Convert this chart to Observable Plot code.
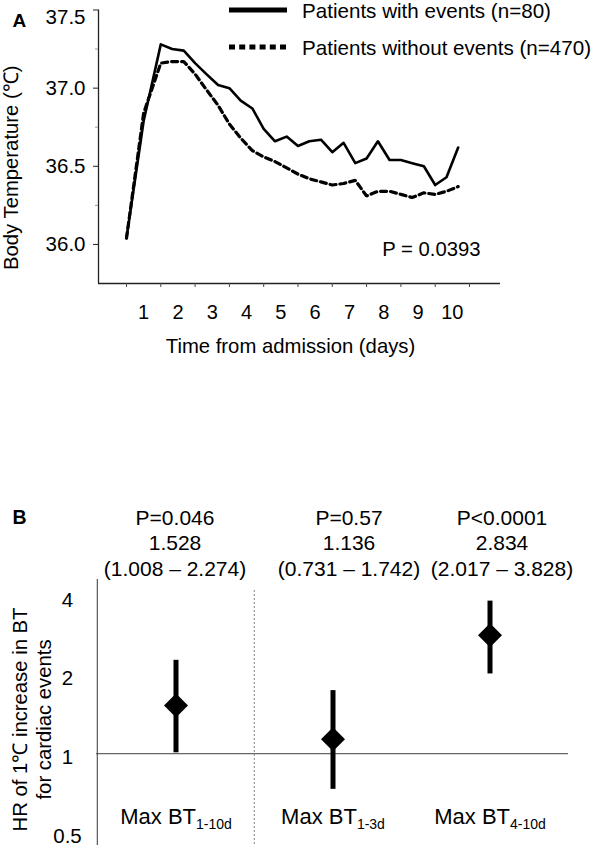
<!DOCTYPE html>
<html><head><meta charset="utf-8">
<script src="https://cdn.jsdelivr.net/npm/d3@7"></script>
<script src="https://cdn.jsdelivr.net/npm/@observablehq/plot@0.6"></script>
<style>
html,body{margin:0;padding:0;background:#fff;}
#root{position:relative;width:592px;height:847px;font-family:Arial,"Liberation Sans",sans-serif;color:#000;overflow:hidden;background:#fff;}
#panelA{position:absolute;left:0;top:0;}
#panelB{position:absolute;left:0;top:490px;}
#legend{position:absolute;left:0;top:0;}
</style></head><body>
<div id="root"><div id="panelA"></div><div id="panelB"></div><svg id="legend" width="592" height="70"></svg></div>
<script>
// ---------- Panel A data ----------
const days = [0, 0.5, 1, 1.33, 1.67, 2, 2.33, 2.67, 3, 3.33, 3.67, 4, 4.33, 4.67, 5, 5.33, 5.67, 6, 6.33, 6.67, 7, 7.33, 7.67, 8, 8.33, 8.67, 9, 9.33, 9.67];
const withEvents = [36.04, 36.79, 37.28, 37.25, 37.24, 37.16, 37.09, 37.02, 37.00, 36.92, 36.87, 36.74, 36.66, 36.69, 36.63, 36.66, 36.67, 36.59, 36.65, 36.52, 36.55, 36.66, 36.54, 36.54, 36.52, 36.50, 36.38, 36.43, 36.62];
const withoutEvents = [36.04, 36.84, 37.16, 37.17, 37.17, 37.09, 36.99, 36.89, 36.77, 36.68, 36.60, 36.56, 36.53, 36.49, 36.45, 36.42, 36.40, 36.38, 36.39, 36.41, 36.31, 36.34, 36.34, 36.32, 36.30, 36.33, 36.32, 36.34, 36.37];
const seriesNames = ["Patients with events (n=80)", "Patients without events (n=470)"];
const dayTicks = [0, 1, 2, 3, 4, 5, 6, 7, 8, 9, 10];
const dayLabelPos = [0.5, 1.5, 2.5, 3.5, 4.5, 5.5, 6.5, 7.5, 8.5, 9.5];
const dayLabels = ["1", "2", "3", "4", "5", "6", "7", "8", "9", "10"];
const tempTicks = [36.0, 36.5, 37.0, 37.5];
const tempMinorTicks = [36.25, 36.75, 37.25];
const xTitleA = "Time from admission (days)";
const yTitleA = "Body Temperature (\u2103)";
const pValueA = "P = 0.0393";

// ---------- Panel B data ----------
const categories = ["Max BT|1-10d", "Max BT|1-3d", "Max BT|4-10d"];
const hrValues = [1.528, 1.136, 2.834];
const ciLower = [1.008, 0.731, 2.017];
const ciUpper = [2.274, 1.742, 3.828];
const pLabels = ["P=0.046", "P=0.57", "P<0.0001"];
const hrTicks = [0.5, 1, 2, 4];
const yTitleB = "HR of 1\u2103 increase in BT\nfor cardiac events";

const FONT = 'Arial, "Liberation Sans", sans-serif';

// ---------- Panel A ----------
const xDomA = [-0.816, 10.904];
const yDomA = [35.75, 37.5];
const rowsA = days.flatMap((d, i) => [
  {day: d, temp: withEvents[i], group: seriesNames[0]},
  {day: d, temp: withoutEvents[i], group: seriesNames[1]}
]);
const fmtT = d3.format(".1f");
const innerTicks = tempTicks.filter(t => t < yDomA[1]);
const topTicks = tempTicks.filter(t => t >= yDomA[1]);

const plotA = Plot.plot({
  width: 592, height: 370,
  marginTop: 9.5, marginLeft: 98, marginRight: 92, marginBottom: 87,
  style: {fontFamily: FONT, fontSize: "20px", background: "white", color: "#000", overflow: "visible"},
  x: {domain: xDomA, label: null},
  y: {domain: yDomA, label: null},
  marks: [
    Plot.ruleX([xDomA[0]], {stroke: "#222", strokeWidth: 1.3}),
    Plot.ruleY([yDomA[0]], {stroke: "#222", strokeWidth: 1.3}),
    Plot.axisY(tempMinorTicks, {tickSize: 3, tickFormat: () => "", label: null, stroke: "#999"}),
    Plot.axisY(tempTicks, {tickSize: 5, tickFormat: () => "", label: null, stroke: "#222"}),
    Plot.axisY(innerTicks, {tickSize: 0, tickPadding: 13, tickFormat: fmtT, label: null, fontSize: 20.5}),
    Plot.axisY(topTicks, {tickSize: 0, tickPadding: 13, tickFormat: fmtT, label: null, fontSize: 20.5, dy: 7.5}),
    Plot.axisX(dayTicks, {tickSize: 4, tickFormat: () => "", label: null, stroke: "#444"}),
    Plot.axisX(dayLabelPos, {tickSize: 0, tickPadding: 21, tickFormat: d => dayLabels[dayLabelPos.indexOf(d)], label: null, fontSize: 20}),
    Plot.line(rowsA.filter(r => r.group === seriesNames[1]), {x: "day", y: "temp", stroke: "#000", strokeWidth: 3.2, strokeDasharray: "6,4", strokeLinejoin: "miter"}),
    Plot.line(rowsA.filter(r => r.group === seriesNames[0]), {x: "day", y: "temp", stroke: "#000", strokeWidth: 2.6}),
    Plot.text([xTitleA], {frameAnchor: "bottom", lineAnchor: "bottom", dx: -9, dy: 69, fontSize: 20.3}),
    Plot.text([yTitleA], {frameAnchor: "left", rotate: -90, textAnchor: "middle", lineAnchor: "bottom", dx: -80.5, dy: 21, fontSize: 20.3}),
    Plot.text([pValueA], {frameAnchor: "bottom-right", textAnchor: "end", lineAnchor: "bottom", dx: -20, dy: -28, fontSize: 20.3}),
    Plot.text(["A"], {frameAnchor: "top-left", textAnchor: "start", lineAnchor: "top", dx: -86, dy: 3, fontWeight: "bold", fontSize: 19})
  ]
});
document.getElementById("panelA").appendChild(plotA);

// legend (overlay built from the series names)
const leg = d3.select("#legend");
const legendRows = [
  {name: seriesNames[0], dash: null, y: 10},
  {name: seriesNames[1], dash: "6,4.2", y: 47}
];
legendRows.forEach(r => {
  leg.append("line").attr("x1", 229).attr("x2", 287).attr("y1", r.y).attr("y2", r.y)
    .attr("stroke", "#000").attr("stroke-width", 5).attr("stroke-dasharray", r.dash);
  leg.append("text").attr("x", 302).attr("y", r.y + 7.5).attr("font-family", FONT)
    .attr("font-size", 20.6).attr("fill", "#000").text(r.name);
});

// ---------- Panel B ----------
const yDomB = [0.446, 4.63];
const mlB = 96, mrB = 24, wB = 592;
const bw = (wB - mlB - mrB) / categories.length;
const tableB = categories.map((c, i) => ({
  cat: c, hr: hrValues[i], lo: ciLower[i], hi: ciUpper[i],
  note: `${pLabels[i]}\n${hrValues[i].toFixed(3)}\n(${ciLower[i].toFixed(3)} \u2013 ${ciUpper[i].toFixed(3)})`
}));
const noteDx = [-1, 16, 12];

const plotB = Plot.plot({
  width: wB, height: 357,
  marginTop: 89, marginBottom: 2, marginLeft: mlB, marginRight: mrB,
  style: {fontFamily: FONT, fontSize: "20px", background: "white", color: "#000", overflow: "visible"},
  x: {type: "band", domain: categories, padding: 0, axis: null},
  y: {type: "log", domain: yDomB, axis: null},
  marks: [
    Plot.ruleY([1], {stroke: "#666", strokeWidth: 1.2}),
    Plot.ruleX([categories[1]], {dx: -bw / 2, stroke: "#9a9a9a", strokeWidth: 1.2, strokeDasharray: "2,2", insetTop: 11}),
    Plot.ruleX([categories[0]], {dx: -bw / 2, stroke: "#555", strokeWidth: 1.2}),
    Plot.ruleX(tableB, {x: "cat", y1: "lo", y2: "hi", stroke: "#000", strokeWidth: 5}),
    Plot.dot(tableB, {x: "cat", y: "hr", symbol: "diamond2", r: 10.8, fill: "#000", stroke: null}),
    Plot.axisY(hrTicks, {tickSize: 0, tickPadding: 29, textAnchor: "middle", dy: 4, tickFormat: d => String(d), label: null, fontSize: 20.5}),
    Plot.text(tableB, {x: "cat", text: "cat", frameAnchor: "bottom", lineAnchor: "bottom", dy: -22, fontSize: 22}),
    ...tableB.map((row, i) => Plot.text([row], {x: "cat", text: "note", frameAnchor: "top", lineAnchor: "bottom", lineHeight: 1.2, dx: noteDx[i], dy: -4, fontSize: 21})),
    Plot.text([yTitleB], {frameAnchor: "left", rotate: -90, textAnchor: "middle", lineAnchor: "bottom", lineHeight: 1.15, dx: -46, dy: 7, fontSize: 20.3}),
    Plot.text(["B"], {frameAnchor: "top-left", textAnchor: "start", lineAnchor: "top", dx: -84, dy: -69, fontWeight: "bold", fontSize: 19.5})
  ]
});
document.getElementById("panelB").appendChild(plotB);

// subscripts for category labels ("Max BT|1-10d" -> Max BT with subscript)
d3.select(plotB).selectAll("text").each(function () {
  const t = this.textContent;
  if (this.childElementCount === 0 && t.includes("|")) {
    const [main, sub] = t.split("|");
    const sel = d3.select(this);
    sel.text(main);
    sel.append("tspan").attr("font-size", 14).attr("dy", 5).text(sub);
  }
});
</script>
</body></html>
